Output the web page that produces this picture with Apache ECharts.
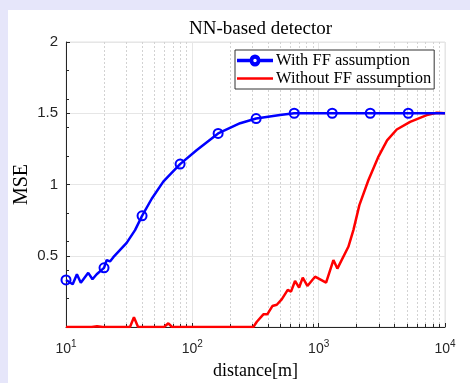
<!DOCTYPE html>
<html>
<head>
<meta charset="utf-8">
<script src="https://cdn.jsdelivr.net/npm/echarts@6/dist/echarts.min.js"></script>
<style>
html,body{margin:0;padding:0;background:#e6e6fa;}
#c{width:470px;height:383px;}
</style>
</head>
<body>
<div id="c"></div>
<script>
// ---- data ----
var titleText = 'NN-based detector';
var xName = 'distance[m]';
var yName = 'MSE';
var seriesNames = ['With FF assumption', 'Without FF assumption'];
var xMinorTicks = [20,30,40,50,60,70,80,90,200,300,400,500,600,700,800,900,2000,3000,4000,5000,6000,7000,8000,9000];

var blueDist = [10, 11.3, 12.2, 13.1, 15.0, 16.2, 17.5, 20, 21.0, 22.3, 23.7, 30.2, 35.2, 40, 47.7, 58.9, 66.5, 80, 108, 160, 239, 320, 494, 640, 1280, 2560, 5120, 10000];
var blueMse  = [0.33, 0.30, 0.37, 0.31, 0.38, 0.335, 0.37, 0.415, 0.47, 0.46, 0.49, 0.59, 0.68, 0.78, 0.90, 1.02, 1.07, 1.143, 1.24, 1.358, 1.43, 1.463, 1.487, 1.50, 1.50, 1.50, 1.50, 1.50];
var blueMarkerDist = [10, 20, 40, 80, 160, 320, 640, 1280, 2560, 5120];

var redDist = [10, 16, 17.6, 19.5, 32.1, 34.5, 37.2, 59.7, 64.6, 69.1, 304, 324, 365, 392, 430, 466, 510, 569, 604, 650, 700, 748, 814, 936, 1145, 1308, 1406, 1718, 1883, 2100, 2474, 2951, 3480, 4150, 5296, 7178, 8610, 10000];
var redMse  = [0, 0, 0.005, 0, 0, 0.068, 0, 0, 0.026, 0, 0, 0.037, 0.089, 0.089, 0.147, 0.156, 0.194, 0.26, 0.248, 0.323, 0.276, 0.346, 0.288, 0.353, 0.311, 0.47, 0.41, 0.563, 0.68, 0.855, 1.03, 1.19, 1.31, 1.386, 1.44, 1.487, 1.503, 1.50];

// ---- build ----
var blueColor = '#0000ff', redColor = '#ff0000';
var blueData = blueDist.map(function (d, i) {
  var item = { value: [d, blueMse[i]] };
  if (blueMarkerDist.indexOf(d) < 0) item.symbol = 'none';
  return item;
});
var redData = redDist.map(function (d, i) { return [d, redMse[i]]; });

var serif = 'Liberation Serif';
var sans = 'Liberation Sans';
var axisDark = '#262626';

var chart = echarts.init(document.getElementById('c'), null, { renderer: 'canvas' });
chart.setOption({
  backgroundColor: '#e6e6fa',
  animation: false,
  graphic: [{
    type: 'rect', z: -10, silent: true,
    shape: { x: 8, y: 10, width: 462, height: 373 },
    style: { fill: '#ffffff' }
  }],
  title: {
    text: titleText,
    left: 255.5, top: 15, textAlign: 'center',
    textStyle: { fontFamily: serif, fontSize: 19, fontWeight: 'normal', color: '#000' }
  },
  legend: {
    orient: 'vertical',
    left: 235, top: 50,
    itemWidth: 36, itemHeight: 10, itemGap: 1,
    padding: [2, 3, 2, 2],
    backgroundColor: '#fff',
    borderColor: '#333', borderWidth: 1,
    selectedMode: false,
    textStyle: { fontFamily: serif, fontSize: 16.5, color: '#000', padding: [0, 0, 0, -2] },
    data: [
      { name: seriesNames[0], icon: 'path://M0,4.3H13.4A4.6,4.6 0 0 1 22.6,4.3H36V5.7H22.6A4.6,4.6 0 0 1 13.4,5.7H0ZM18,2.1A2.9,2.9 0 1 0 18.001,2.1Z', itemStyle: { color: blueColor } },
      { name: seriesNames[1], icon: 'path://M0,3.75H36V6.25H0Z', itemStyle: { color: redColor } }
    ]
  },
  grid: {
    left: 66, right: 25, top: 42, bottom: 56,
    outerBoundsMode: 'none', containLabel: false,
    show: true, borderColor: '#e3e3e3', borderWidth: 1, backgroundColor: 'transparent'
  },
  xAxis: [{
    type: 'log', logBase: 10, min: 10, max: 10000,
    name: xName, nameLocation: 'middle', nameGap: 35, nameMoveOverlap: false,
    nameTextStyle: { fontFamily: serif, fontSize: 18, color: '#000' },
    axisLine: { show: true, lineStyle: { color: axisDark, width: 1 } },
    axisTick: { show: true, inside: true, length: 4, lineStyle: { color: axisDark } },
    axisLabel: {
      margin: 12,
      formatter: function (v) {
        var e = Math.round(Math.log10(v));
        return '10{sup|' + e + '}';
      },
      rich: { sup: { fontSize: 10, verticalAlign: 'bottom', padding: [0, 0, 10, 0], fontFamily: sans, color: axisDark } },
      fontFamily: sans, fontSize: 14, color: axisDark
    },
    splitLine: { show: true, lineStyle: { color: '#e6e6e6', width: 1 } },
    minorTick: { show: false }, minorSplitLine: { show: false }
  }, {
    type: 'log', logBase: 10, min: 10, max: 10000, gridIndex: 0, position: 'bottom',
    axisLine: { show: false },
    axisLabel: { show: false },
    axisTick: { show: true, inside: true, length: 3, customValues: xMinorTicks, lineStyle: { color: axisDark } },
    splitLine: { show: true, lineStyle: { color: '#d2d2d2', width: 1, type: [2, 2] } }
  }],
  yAxis: [{
    type: 'value', min: 0, max: 2, interval: 0.5,
    name: yName, nameLocation: 'middle', nameGap: 34, nameRotate: 90, nameMoveOverlap: false,
    nameTextStyle: { fontFamily: serif, fontSize: 20, color: '#000' },
    axisLine: { show: true, lineStyle: { color: axisDark, width: 1 } },
    axisTick: { show: true, inside: true, length: 4, lineStyle: { color: axisDark } },
    axisLabel: {
      margin: 8, fontFamily: sans, fontSize: 15, color: axisDark,
      formatter: function (v) { return v === 0 ? '' : String(v); }
    },
    splitLine: { show: true, lineStyle: { color: '#e6e6e6', width: 1 } }
  }, {
    type: 'value', min: 0, max: 2, interval: 0.2, position: 'left', gridIndex: 0,
    axisLine: { show: false },
    axisLabel: { show: false },
    axisTick: { show: true, inside: true, length: 3, lineStyle: { color: axisDark } },
    splitLine: { show: false }
  }],
  series: [{
    name: seriesNames[0],
    type: 'line',
    xAxisIndex: 0, yAxisIndex: 0,
    data: blueData,
    showSymbol: true, showAllSymbol: true,
    symbol: 'circle', symbolSize: 9,
    itemStyle: { color: 'rgba(0,0,0,0)', borderColor: blueColor, borderWidth: 2 },
    lineStyle: { color: blueColor, width: 2.5 },
    emphasis: { disabled: true },
    z: 3
  }, {
    name: seriesNames[1],
    type: 'line',
    xAxisIndex: 0, yAxisIndex: 0,
    data: redData,
    showSymbol: false,
    symbol: 'none',
    lineStyle: { color: redColor, width: 2.5 },
    emphasis: { disabled: true },
    z: 2
  }]
});
</script>
</body>
</html>
